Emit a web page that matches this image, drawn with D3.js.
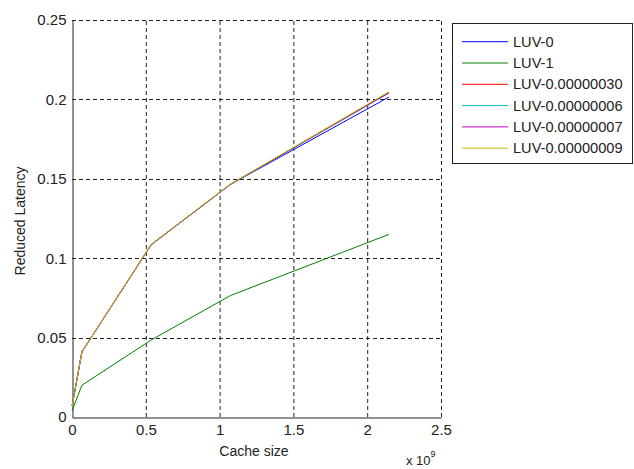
<!DOCTYPE html>
<html><head><meta charset="utf-8">
<script src="https://cdn.jsdelivr.net/npm/d3@7"></script>
<style>
html,body{margin:0;padding:0;background:#fff;}
text{font-family:"Liberation Sans",Arial,Helvetica,sans-serif;fill:#222;}
</style></head>
<body><svg id="c" width="634" height="469"></svg>
<script>
// cache sizes in units of 1e9
const cacheSize = [0.001048576, 0.067108864, 0.536870912, 1.073741824, 2.147483648];
const luv0      = [0.007, 0.041, 0.1085, 0.1465, 0.2015];
const luv1      = [0.004, 0.020, 0.0485, 0.0765, 0.1150];
const luv30     = [0.007, 0.041, 0.1085, 0.1465, 0.2045];
const luv06     = [0.007, 0.041, 0.1085, 0.1465, 0.2040];
const luv07     = [0.007, 0.041, 0.1087, 0.1466, 0.2042];
const luv09     = [0.007, 0.041, 0.1088, 0.1467, 0.2048];
const seriesNames = ["LUV-0","LUV-1","LUV-0.00000030","LUV-0.00000006","LUV-0.00000007","LUV-0.00000009"];
const seriesColors = ["#0000ff","#008000","#ff0000","#00c0c0","#c000c0","#c0c000"];
const seriesValues = [luv0, luv1, luv30, luv06, luv07, luv09];
const xTicks = [0, 0.5, 1, 1.5, 2, 2.5];
const yTicks = [0, 0.05, 0.1, 0.15, 0.2, 0.25];

const svg = d3.select("#c");
const L = 72, R = 441, T = 20, B = 417;
const x = d3.scaleLinear().domain([0, 2.5]).range([L, R]);
const y = d3.scaleLinear().domain([0, 0.25]).range([B, T]);

// grid
const g = svg.append("g");
g.selectAll(".vg").data(xTicks.filter(d => d > 0)).enter().append("line")
  .attr("x1", d => x(d)+0.5).attr("x2", d => x(d)+0.5).attr("y1", B).attr("y2", T)
  .attr("stroke", "#222").attr("stroke-width", 1).attr("stroke-dasharray", "4,3");
g.selectAll(".hg").data(yTicks.filter(d => d > 0)).enter().append("line")
  .attr("y1", d => Math.round(y(d))+0.5).attr("y2", d => Math.round(y(d))+0.5).attr("x1", L).attr("x2", R)
  .attr("stroke", "#222").attr("stroke-width", 1).attr("stroke-dasharray", "4,3");

// axes
const xAxis = d3.axisBottom(x).tickValues(xTicks).tickFormat(d3.format("")).tickSize(0).tickPadding(7);
const yAxis = d3.axisLeft(y).tickValues(yTicks).tickFormat(d3.format("")).tickSize(0).tickPadding(6);
const gx = svg.append("g").attr("transform", `translate(0,${B+0.5})`).call(xAxis);
const gy = svg.append("g").attr("transform", `translate(${L+0.5},0)`).call(yAxis);
[gx, gy].forEach(a => {
  a.select(".domain").attr("stroke", "#222");
  a.selectAll("text").attr("font-size", 15).attr("fill", "#222")
   .attr("font-family", '"Liberation Sans",Arial,sans-serif');
});

// lines
const line = d3.line().x((d, i) => x(cacheSize[i])).y(d => y(d));
seriesValues.forEach((vals, k) => {
  svg.append("path").datum(vals).attr("d", line).attr("fill", "none")
    .attr("stroke", seriesColors[k]).attr("stroke-width", 1);
});

// labels
svg.append("text").attr("x", 254).attr("y", 456).attr("text-anchor", "middle")
  .attr("font-size", 14).text("Cache size");
svg.append("text").attr("transform", "translate(25,221) rotate(-90)").attr("text-anchor", "middle")
  .attr("font-size", 14).text("Reduced Latency");
const ex = svg.append("text").attr("x", 406).attr("y", 465).attr("font-size", 13);
ex.append("tspan").text("x 10");
ex.append("tspan").attr("font-size", 9).attr("dy", -8).text("9");

// legend
const lg = svg.append("g");
lg.append("rect").attr("x", 452.5).attr("y", 23.5).attr("width", 180).attr("height", 140)
  .attr("fill", "#fff").attr("stroke", "#222");
seriesNames.forEach((n, k) => {
  const yy = 41.7 + k * 21.3;
  lg.append("line").attr("x1", 462).attr("x2", 508).attr("y1", yy).attr("y2", yy)
    .attr("stroke", seriesColors[k]).attr("stroke-width", 1);
  lg.append("text").attr("x", 513).attr("y", yy + 5).attr("font-size", 14.6).text(n);
});
</script></body></html>
